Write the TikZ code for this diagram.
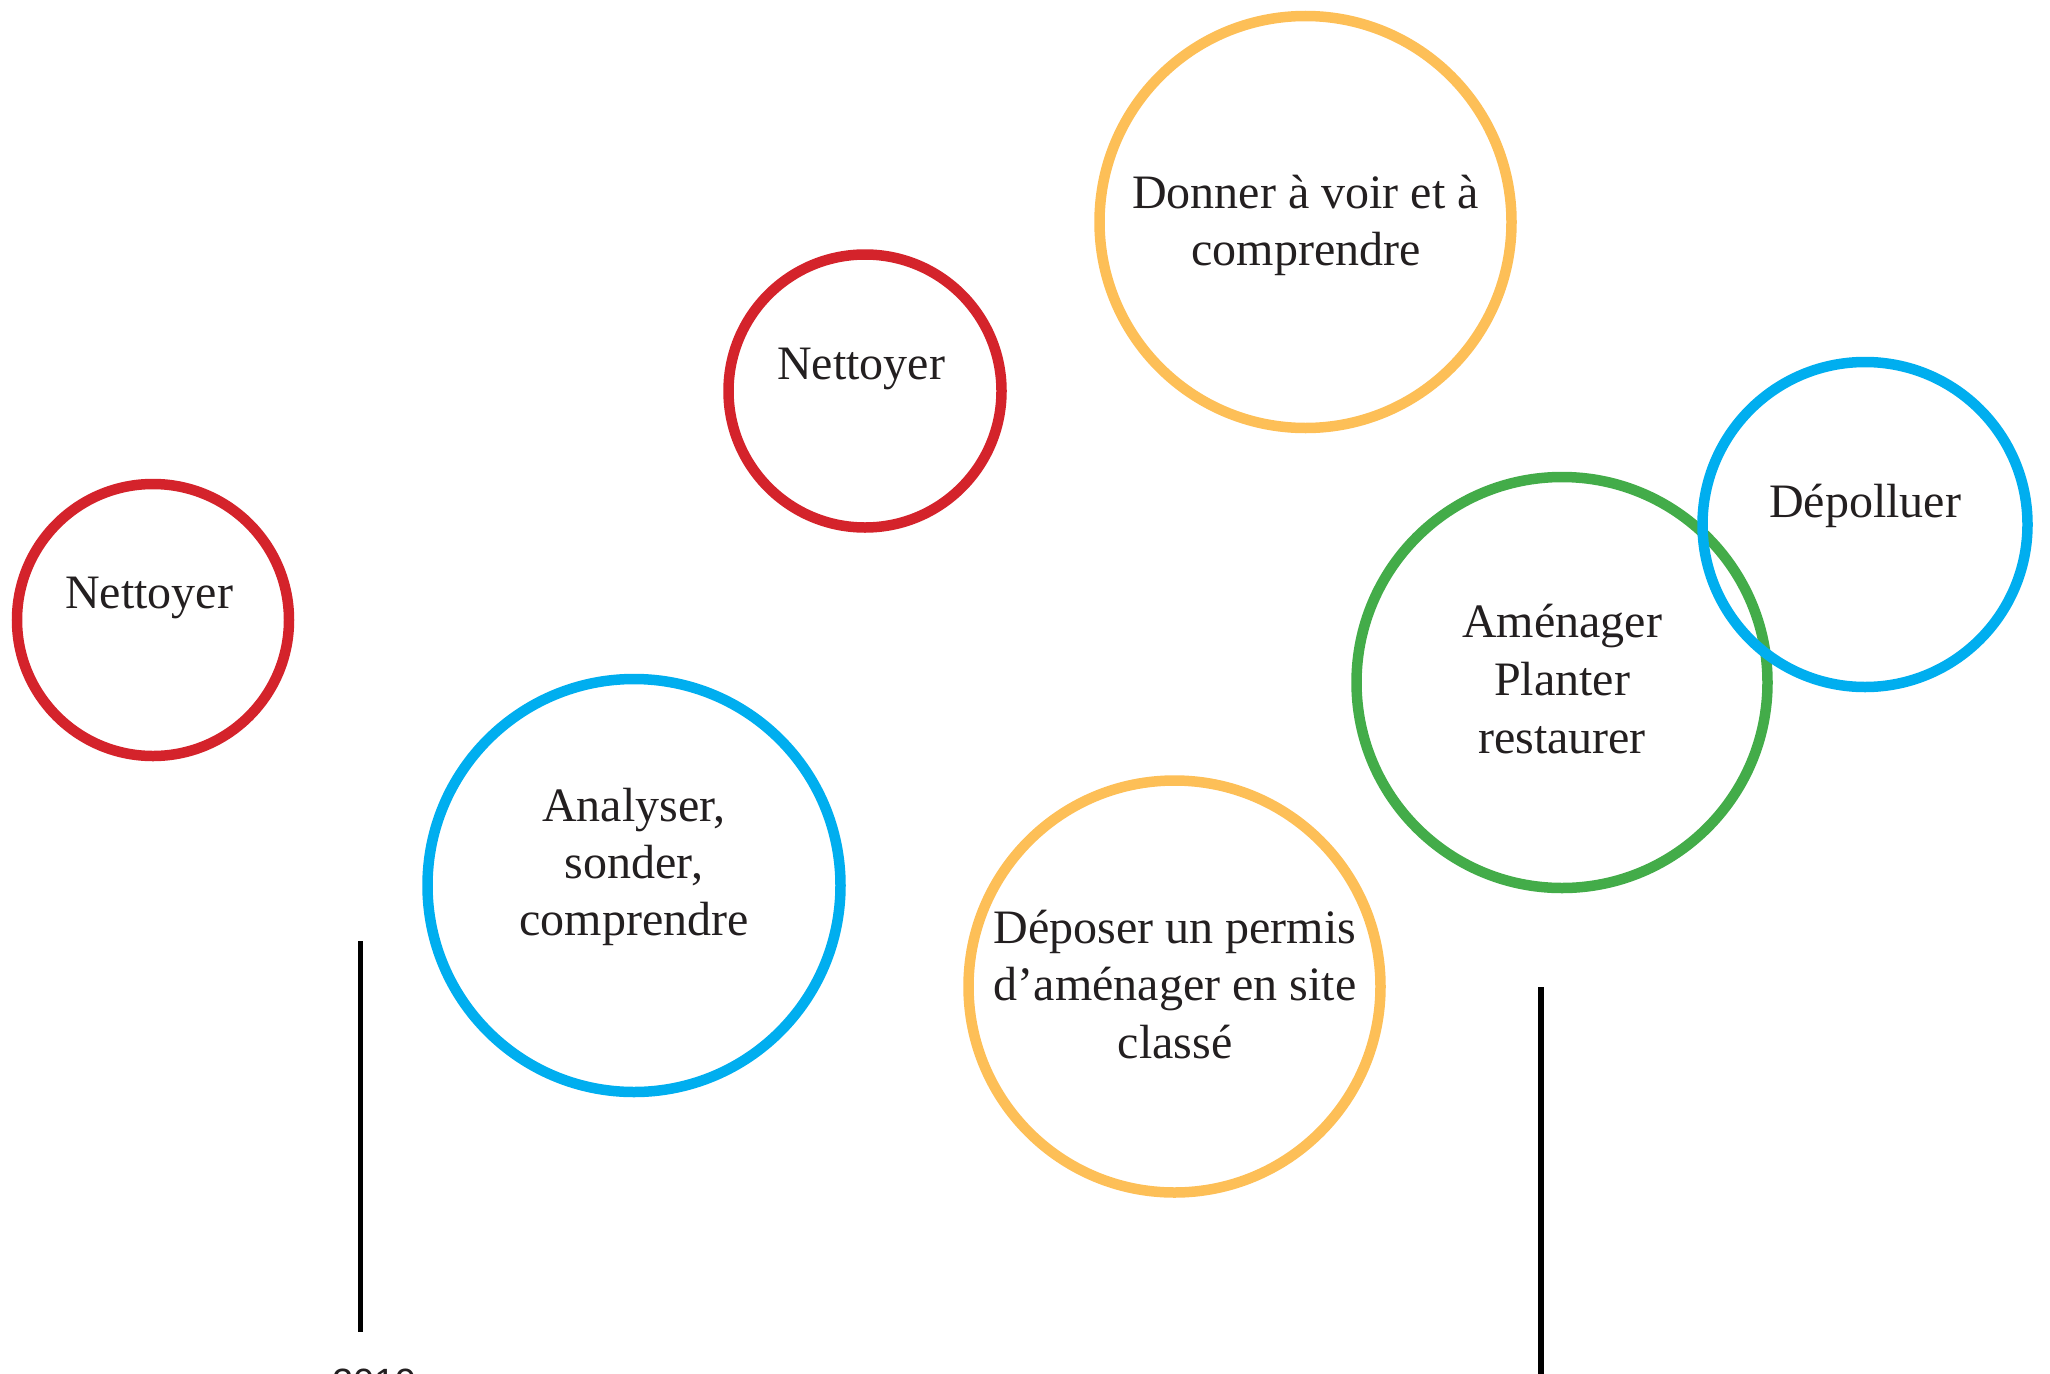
\documentclass[tikz,border=0pt]{standalone}
\usepackage{fontspec}
\setmainfont{Liberation Serif}
\newfontfamily\yearfont{Liberation Sans}
\definecolor{cred}{HTML}{D4232B}
\definecolor{cyellow}{HTML}{FDBF57}
\definecolor{cblue}{HTML}{00AEEF}
\definecolor{cgreen}{HTML}{43AC49}
\definecolor{ink}{HTML}{231F20}
\begin{document}
\begin{tikzpicture}[x=1pt,y=-1pt,
  ring/.style={circle,draw,line width=10.5pt,inner sep=0pt,outer sep=0pt,minimum size=#1},
  lbl/.style={anchor=base,inner sep=0pt,outer sep=0pt,font=\fontsize{48}{57}\selectfont,text=ink},
  tickline/.style={line width=5.5pt,draw=black}]
\useasboundingbox (0,0) rectangle (2050,1373);
% circles
\node[ring=272pt,draw=cred] (c1) at (153,620) {};
\node[ring=273pt,draw=cred] (c2) at (865,391) {};
\node[ring=412pt,draw=cyellow] (c3) at (1305.5,222) {};
\node[ring=413pt,draw=cblue] (c4) at (634,885.5) {};
\node[ring=412pt,draw=cyellow] (c5) at (1174.5,986.5) {};
\node[ring=411pt,draw=cgreen] (c6) at (1562,682.5) {};
\node[ring=325pt,draw=cblue] (c7) at (1865,524.5) {};
% labels
\node[lbl] (t1) at (149,608) {Nettoyer};
\node[lbl] (t2) at (861,379) {Nettoyer};
\node[lbl] (t3a) at (1305.5,208) {Donner à voir et à};
\node[lbl] (t3b) at (1306,265) {comprendre};
\node[lbl] (t4a) at (634,821) {Analyser,};
\node[lbl] (t4b) at (634,878) {sonder,};
\node[lbl] (t4c) at (634,935) {comprendre};
\node[lbl] (t5a) at (1175,943) {Déposer un permis};
\node[lbl] (t5b) at (1175,1000) {d’aménager en site};
\node[lbl] (t5c) at (1175,1058) {classé};
\node[lbl] (t6a) at (1562,637) {Aménager};
\node[lbl] (t6b) at (1562,695) {Planter};
\node[lbl] (t6c) at (1562,753) {restaurer};
\node[lbl] (t7) at (1865,517) {Dépolluer};
% ticks
\coordinate (l1top) at (360.7,941);
\coordinate (l1bot) at (360.7,1332);
\coordinate (l2top) at (1541,987);
\coordinate (l2bot) at (1541,1385);
\draw[tickline] (l1top) -- (l1bot);
\draw[tickline] (l2top) -- (l2bot);
\node[anchor=base,inner sep=0pt,font=\yearfont\fontsize{38}{38}\selectfont,text=ink] (y2019) at (374.5,1395) {2019};
\end{tikzpicture}
\end{document}
